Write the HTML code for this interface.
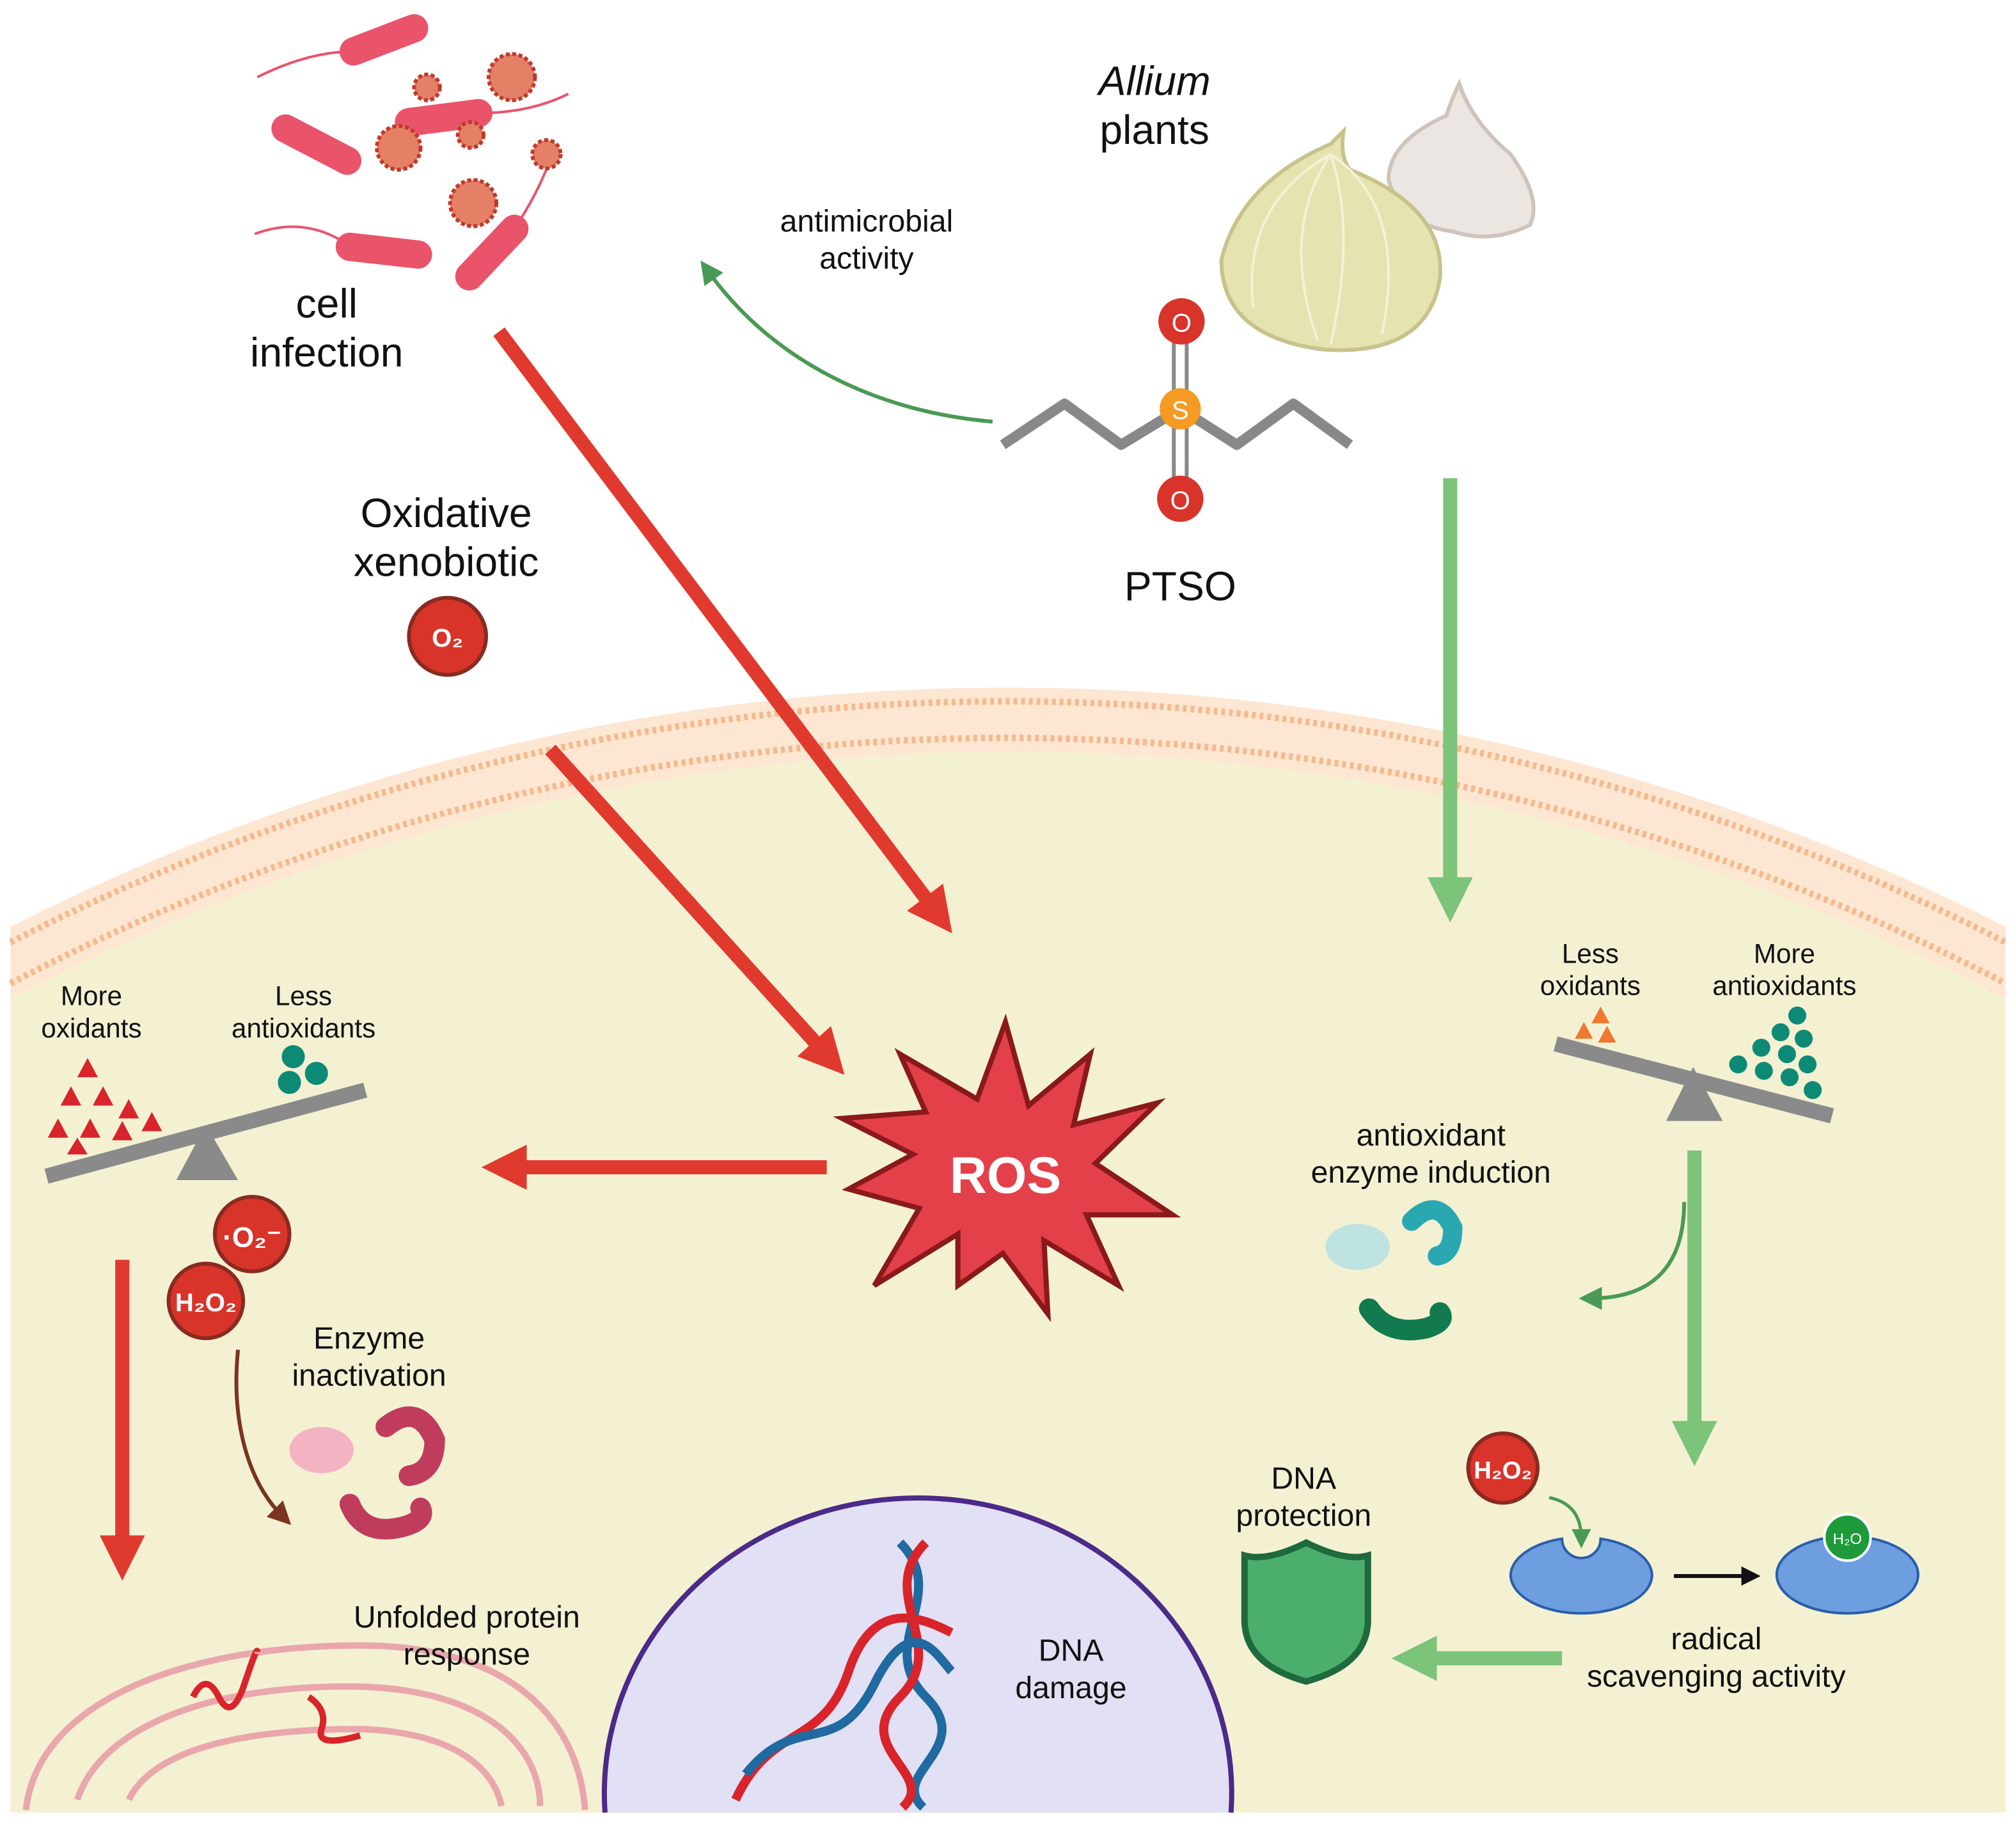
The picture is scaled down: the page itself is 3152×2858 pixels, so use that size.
<!DOCTYPE html>
<html><head><meta charset="utf-8"><style>html,body{margin:0;padding:0;background:#fff;width:3152px;height:2858px;overflow:hidden}svg{display:block}text{font-family:"Liberation Sans",sans-serif;fill:#111;text-anchor:middle}</style></head>
<body>
<svg width="3152" height="2858" viewBox="0 0 1568 1422" xmlns="http://www.w3.org/2000/svg" overflow="hidden">
<defs>
<marker id="rh" viewBox="0 0 10 10" refX="5" refY="5" markerWidth="3.2" markerHeight="3.2" orient="auto"><path d="M0,0L10,5L0,10z" fill="#e03a2f"/></marker>
<marker id="gh" viewBox="0 0 10 10" refX="5" refY="5" markerWidth="3.2" markerHeight="3.2" orient="auto"><path d="M0,0L10,5L0,10z" fill="#7cc47a"/></marker>
<marker id="dg" viewBox="0 0 10 10" refX="5" refY="5" markerWidth="6" markerHeight="6" orient="auto"><path d="M0,0L10,5L0,10z" fill="#4a9a55"/></marker>
<marker id="br" viewBox="0 0 10 10" refX="5" refY="5" markerWidth="6" markerHeight="6" orient="auto"><path d="M0,0L10,5L0,10z" fill="#7a3420"/></marker>
<marker id="bk" viewBox="0 0 10 10" refX="5" refY="5" markerWidth="5" markerHeight="5" orient="auto"><path d="M0,0L10,5L0,10z" fill="#111"/></marker>
</defs>
<rect width="1568" height="1422" fill="#fff"/>
<path d="M8,1410 V721 A1711,1711 0 0 1 1560,721 V1410 Z" fill="#fde6d2"/>
<path d="M8,733 A1700,1700 0 0 1 1560,733" fill="none" stroke="#f6b98c" stroke-width="5" stroke-dasharray="3 3"/>
<path d="M8,765 A1672,1672 0 0 1 1560,765" fill="none" stroke="#f6b98c" stroke-width="5" stroke-dasharray="3 3"/>
<path d="M8,1410 V777 A1661,1661 0 0 1 1560,777 V1410 Z" fill="#f4f1d3"/>
<path d="M470.5,1410 A244,230 0 1 1 957.5,1410 Z" fill="#e2e0f4"/>
<path d="M470.5,1410 A244,230 0 1 1 957.5,1410" fill="none" stroke="#4b2a88" stroke-width="4"/>
<g fill="none" stroke-width="7">
<path d="M700,1200 C740,1240 680,1280 720,1320 S690,1380 718,1406" stroke="#1f6aa0"/>
<path d="M720,1200 C680,1240 740,1280 700,1320 S730,1380 702,1406" stroke="#d8242a"/>
<path d="M572,1400 C600,1340 640,1360 660,1300 S720,1260 740,1270" stroke="#d8242a"/>
<path d="M580,1380 C620,1330 650,1370 680,1310 S730,1290 740,1300" stroke="#1f6aa0"/>
</g>
<g fill="none" stroke="#e9a7ac" stroke-width="5">
<path d="M20,1408 C30,1320 150,1280 280,1280 C400,1280 450,1340 455,1408"/>
<path d="M60,1400 C80,1340 170,1310 280,1312 C380,1315 420,1360 420,1405"/>
<path d="M100,1400 C120,1360 190,1345 280,1345 C360,1348 385,1380 390,1405"/>
</g>
<text x="833" y="1292" font-size="24">DNA</text><text x="833" y="1321" font-size="24">damage</text>
<path d="M150,1320 q10,-20 20,0 t20,-10 t10,-25 M240,1320 q15,10 10,25 t30,5" stroke="#d8242a" stroke-width="5" fill="none"/>
<text x="363" y="1266" font-size="24">Unfolded protein</text><text x="363" y="1295" font-size="24">response</text>
<g stroke="#e9546b" stroke-width="22" stroke-linecap="round">
<line x1="275" y1="40" x2="322" y2="22"/><line x1="222" y1="100" x2="270" y2="125"/>
<line x1="272" y1="192" x2="325" y2="198"/><line x1="365" y1="215" x2="400" y2="178"/>
<line x1="318" y1="95" x2="372" y2="88"/>
</g>
<g fill="none" stroke="#e9546b" stroke-width="2"><path d="M200,60 q40,-20 75,-20 M198,182 q40,-15 75,10 M400,178 q20,-30 30,-60 M372,88 q40,0 70,-15"/></g>
<g fill="#e48066" stroke="#c0392b" stroke-width="3" stroke-dasharray="3 2">
<circle cx="398" cy="60" r="18"/><circle cx="332" cy="68" r="10"/><circle cx="310" cy="115" r="17"/><circle cx="366" cy="105" r="10"/><circle cx="368" cy="158" r="18"/><circle cx="425" cy="120" r="11"/>
</g>
<text x="254" y="247" font-size="32">cell</text><text x="254" y="285" font-size="32">infection</text>
<path d="M1135,65 q10,30 40,55 q25,35 15,55 q-30,15 -60,5 q-40,-5 -50,-40 q0,-30 45,-50 q5,-15 10,-25z" fill="#ece6e2" stroke="#cfc3bb" stroke-width="3"/>
<path d="M1035,112 q-70,30 -85,90 q0,60 80,70 q80,5 90,-55 q5,-55 -70,-85 q-8,-10 -5,-30 q-5,5 -10,10z" fill="#e5e3b0" stroke="#c7c38a" stroke-width="3"/>
<g fill="none" stroke="#f4f2d4" stroke-width="2"><path d="M1035,120 q-40,60 -10,145 M1035,120 q20,60 0,148 M1035,120 q60,40 40,140 M1035,120 q-70,40 -60,120"/></g>
<text x="898" y="74" font-size="32" font-style="italic">Allium</text><text x="898" y="112" font-size="32">plants</text>
<g stroke="#888" stroke-width="8" fill="none" stroke-linejoin="round"><path d="M780,346 L828,314 L872,346 L918,318 L962,346 L1006,314 L1050,346"/></g>
<g stroke="#888" stroke-width="3"><line x1="913" y1="250" x2="913" y2="388"/><line x1="923" y1="250" x2="923" y2="388"/></g>
<circle cx="919" cy="250" r="18" fill="#d8342a"/><text x="919" y="258" font-size="20" style="fill:#fff">O</text>
<circle cx="918" cy="388" r="18" fill="#d8342a"/><text x="918" y="396" font-size="20" style="fill:#fff">O</text>
<circle cx="918" cy="318" r="16" fill="#f59a23"/><text x="918" y="326" font-size="20" style="fill:#fff">S</text>
<text x="918" y="467" font-size="32">PTSO</text>
<path d="M772,328 C680,320 600,280 550,210" stroke="#4a9a55" stroke-width="3" fill="none" marker-end="url(#dg)"/>
<text x="674" y="180" font-size="24">antimicrobial</text><text x="674" y="209" font-size="24">activity</text>
<text x="347" y="410" font-size="32">Oxidative</text><text x="347" y="448" font-size="32">xenobiotic</text>
<circle cx="348" cy="495" r="30" fill="#d8342a" stroke="#8a2a20" stroke-width="3"/><text x="348" y="503" font-size="20" font-weight="bold" style="fill:#fff">O₂</text>
<g stroke="#e03a2f" stroke-width="11" fill="none" marker-end="url(#rh)">
<line x1="388" y1="258" x2="730" y2="712"/>
<line x1="428" y1="583" x2="645" y2="823"/>
<line x1="643" y1="908" x2="392" y2="908"/>
<line x1="95" y1="980" x2="95" y2="1212"/>
</g>
<g stroke="#7cc47a" stroke-width="11" fill="none" marker-end="url(#gh)">
<line x1="1128" y1="372" x2="1128" y2="700"/>
<line x1="1318" y1="895" x2="1318" y2="1123"/>
<line x1="1215" y1="1290" x2="1100" y2="1290"/>
</g>
<path d="M1310,935 C1310,990 1280,1010 1237,1010" stroke="#4a9a55" stroke-width="3" fill="none" marker-end="url(#dg)"/>
<polygon points="782,795 800,860 848,820 835,875 900,858 852,905 912,945 845,945 870,1000 812,965 815,1022 780,975 745,1000 745,960 680,1000 715,940 660,925 710,898 655,870 720,865 700,820 760,855" fill="#e3404a" stroke="#8a1a1a" stroke-width="4"/>
<text x="782" y="928" font-size="40" font-weight="bold" style="fill:#fff">ROS</text>
<line x1="36" y1="915" x2="284" y2="848" stroke="#8a8a8a" stroke-width="12"/>
<polygon points="160,875 137,918 185,918" fill="#8a8a8a"/>
<g fill="#d8242a"><polygon points="68,823 60,838 76,838"/><polygon points="55,845 47,860 63,860"/><polygon points="80,845 72,860 88,860"/><polygon points="100,855 92,870 108,870"/><polygon points="45,870 37,885 53,885"/><polygon points="70,870 62,885 78,885"/><polygon points="95,872 87,887 103,887"/><polygon points="118,865 110,880 126,880"/><polygon points="60,885 52,898 68,898"/></g>
<g fill="#0d8a76"><circle cx="228" cy="822" r="9"/><circle cx="225" cy="842" r="9"/><circle cx="246" cy="835" r="9"/></g>
<text x="71" y="782" font-size="21">More</text><text x="71" y="807" font-size="21">oxidants</text>
<text x="236" y="782" font-size="21">Less</text><text x="236" y="807" font-size="21">antioxidants</text>
<circle cx="196" cy="960" r="29" fill="#d8342a" stroke="#8a2a20" stroke-width="3"/><text x="196" y="970" font-size="22" font-weight="bold" style="fill:#fff">·O₂⁻</text>
<circle cx="160" cy="1012" r="29" fill="#d8342a" stroke="#8a2a20" stroke-width="3"/><text x="160" y="1020" font-size="20" font-weight="bold" style="fill:#fff">H₂O₂</text>
<path d="M185,1050 C180,1100 190,1150 220,1180" stroke="#7a3420" stroke-width="3" fill="none" marker-end="url(#br)"/>
<text x="287" y="1049" font-size="24">Enzyme</text><text x="287" y="1078" font-size="24">inactivation</text>
<ellipse cx="250" cy="1128" rx="25" ry="18" fill="#f4b3c2"/>
<path d="M300,1110 q25,-20 38,10 q0,25 -20,28" stroke="#c03c5c" stroke-width="16" fill="none" stroke-linecap="round"/>
<path d="M272,1170 q10,25 40,18 q20,-5 15,-15" stroke="#c03c5c" stroke-width="16" fill="none" stroke-linecap="round"/>
<line x1="1210" y1="812" x2="1425" y2="868" stroke="#8a8a8a" stroke-width="12"/>
<polygon points="1317,830 1296,872 1340,872" fill="#8a8a8a"/>
<g fill="#f07830"><polygon points="1245,783 1238,796 1252,796"/><polygon points="1232,795 1225,808 1239,808"/><polygon points="1250,798 1243,811 1257,811"/></g>
<g fill="#0d8a76"><circle cx="1398" cy="790" r="7"/><circle cx="1385" cy="803" r="7"/><circle cx="1403" cy="808" r="7"/><circle cx="1370" cy="815" r="7"/><circle cx="1390" cy="820" r="7"/><circle cx="1406" cy="828" r="7"/><circle cx="1352" cy="828" r="7"/><circle cx="1372" cy="833" r="7"/><circle cx="1392" cy="838" r="7"/><circle cx="1410" cy="848" r="7"/></g>
<text x="1237" y="749" font-size="21">Less</text><text x="1237" y="774" font-size="21">oxidants</text>
<text x="1388" y="749" font-size="21">More</text><text x="1388" y="774" font-size="21">antioxidants</text>
<text x="1113" y="891" font-size="24">antioxidant</text><text x="1113" y="920" font-size="24">enzyme induction</text>
<ellipse cx="1056" cy="970" rx="25" ry="18" fill="#bfe3e0"/>
<path d="M1098,950 q20,-20 32,5 q0,20 -12,22" stroke="#2aa8b2" stroke-width="15" fill="none" stroke-linecap="round"/>
<path d="M1065,1018 q15,22 45,15 q15,-5 10,-12" stroke="#127a4f" stroke-width="16" fill="none" stroke-linecap="round"/>
<circle cx="1169" cy="1142" r="27" fill="#d8342a" stroke="#8a2a20" stroke-width="3"/><text x="1169" y="1150" font-size="19" font-weight="bold" style="fill:#fff">H₂O₂</text>
<path d="M1205,1165 q25,5 25,32" stroke="#4a9a55" stroke-width="2.5" fill="none" marker-end="url(#dg)"/>
<path d="M1175,1225 a55,30 0 0 0 110,0 a55,30 0 0 0 -40,-28 a15,15 0 0 1 -30,0 a55,30 0 0 0 -40,28z" fill="#6c9ee0" stroke="#2a5fa8" stroke-width="2"/>
<path d="M1382,1225 a55,30 0 0 0 110,0 a55,30 0 0 0 -110,0z" fill="#6c9ee0" stroke="#2a5fa8" stroke-width="2"/>
<circle cx="1437" cy="1196" r="18" fill="#1e9a3a" stroke="#fff" stroke-width="2"/><text x="1437" y="1201" font-size="12" style="fill:#fff">H₂O</text>
<line x1="1302" y1="1226" x2="1362" y2="1226" stroke="#111" stroke-width="3" marker-end="url(#bk)"/>
<text x="1335" y="1283" font-size="24">radical</text><text x="1335" y="1312" font-size="24">scavenging activity</text>
<path d="M1016,1200 q-30,15 -48,10 v50 q0,35 48,48 q48,-13 48,-48 v-50 q-18,5 -48,-10z" fill="#4cae6d" stroke="#1e6a3d" stroke-width="5"/>
<text x="1014" y="1158" font-size="24">DNA</text><text x="1014" y="1187" font-size="24">protection</text>
</svg>
</body></html>
